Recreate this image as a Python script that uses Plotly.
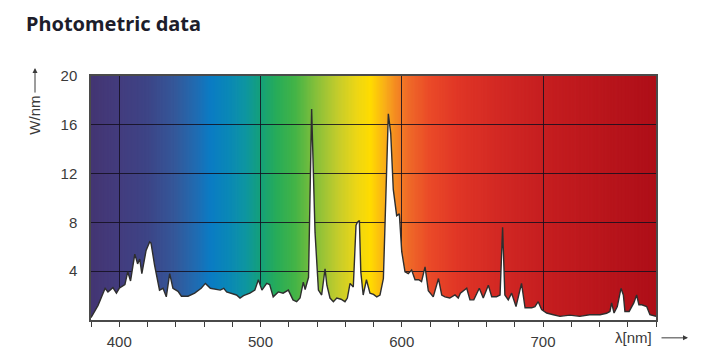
import plotly.graph_objects as go

# ---- data ----
wavelength = [380, 385, 390, 392, 395.5, 398, 400, 404, 406, 408, 411, 413, 414.5, 416, 419,
              421.5, 422.5, 425, 428.5, 431, 433.3, 435.7, 438, 441.6, 444, 448.7, 453.4, 458,
              461, 464.5, 471.5, 474, 476, 483, 485.5, 488, 492.5, 496, 498.5, 501, 504.4, 506.5,
              509, 512.6, 516, 519.7, 523, 525.6, 528, 530.3, 531.6, 534, 536.2, 538.6, 541,
              543.3, 545.7, 547, 549.2, 551.6, 554, 557, 559.8, 561.5, 563.4, 565.7, 567.6, 568.5,
              570, 571, 572.7, 575, 577.5, 580, 582.3, 584.6, 587, 588.8, 590.5, 592.2, 594,
              596.4, 598.3, 600, 602.3, 604.6, 607, 609.4, 612, 614, 616.5, 618.8, 622.3, 626,
              628.3, 630.6, 634, 637.7, 640, 641.5, 646, 648.3, 651, 654.9, 657.7, 661.3, 663.7,
              667, 669.6, 671.4, 673, 675.4, 677.8, 680.9, 682.5, 684.8, 687.3, 692, 694.3, 696.6,
              699, 702.6, 707.3, 712, 719, 726, 733, 740.4, 745, 747.4, 748.6, 750.3, 752.6, 754,
              755.2, 756.9, 758, 761, 764.3, 766.3, 767.9, 770, 773.4, 775.7, 780]
power = [0.2, 1.2, 2.6, 2.3, 2.65, 2.2, 2.6, 2.9, 3.95, 3.2, 5.4, 4.6, 5.0, 3.8, 5.7,
         6.4, 6.3, 4.5, 2.45, 2.6, 1.9, 3.8, 2.6, 2.35, 1.95, 1.95, 2.2, 2.6,
         3.0, 2.6, 2.45, 2.6, 2.3, 2.05, 1.8, 2.0, 2.2, 2.45, 3.3, 2.45, 3.0, 2.9,
         1.9, 2.3, 2.2, 2.45, 1.65, 1.5, 1.8, 3.1, 2.5, 3.5, 17.3, 7.2, 2.45,
         2.05, 4.2, 2.85, 1.8, 1.5, 1.8, 1.7, 1.5, 1.8, 3.0, 2.7, 7.75, 8.0,
         8.15, 3.95, 2.05, 3.3, 2.2, 2.1, 1.9, 2.05, 3.4, 9.9, 16.9, 15.3, 10.7,
         8.55, 8.7, 5.6, 3.95, 3.8, 4.1, 3.3, 3.3, 3.15, 4.35, 2.4, 1.9, 3.4,
         2.05, 1.9, 1.8, 2.05, 1.8, 2.2, 2.6, 1.65, 1.65, 2.6, 1.8, 2.85, 1.9,
         1.9, 2.05, 7.6, 2.05, 1.65, 2.2, 1.1, 1.9, 3.0, 1.0, 1.0, 1.1, 1.5,
         0.85, 0.57, 0.43, 0.3, 0.4, 0.3, 0.43, 0.43, 0.55, 0.7, 1.4, 0.57, 1.1, 2.05,
         2.6, 2.05, 0.7, 0.7, 1.4, 2.05, 1.25, 1.25, 1.1, 0.43, 0.3]

x_ticks = [380, 400, 420, 440, 460, 480, 500, 520, 540, 560, 580, 600, 620, 640, 660, 680,
           700, 720, 740, 760, 780]
x_labels = {400: "400", 500: "500", 600: "600", 700: "700"}
x_grid = [400, 500, 600, 700]
y_ticks = [4, 8, 12, 16, 20]

# spectrum background colour stops (wavelength, colour)
stop_nm = [380, 400, 420, 440, 455, 465, 478, 490, 500, 512, 525, 540, 555, 568, 578,
           588, 596, 605, 620, 640, 665, 700, 740, 780]
stop_col = ["#433572", "#433c7e", "#3d4486", "#34589a", "#1f6cb2", "#0a7cc4", "#0a88b6",
            "#0e96a0", "#14a07a", "#28ac58", "#44b446", "#88c03a", "#c4cc2c", "#ecd616",
            "#ffdc00", "#f9b018", "#f48a22", "#ef6a28", "#ea4a28", "#e03626", "#d42a24",
            "#c61e20", "#ba161c", "#ae0e18"]


def hex2rgb(h):
    h = h.lstrip("#")
    return [int(h[i:i + 2], 16) for i in (0, 2, 4)]


def colour_at(nm):
    for i in range(len(stop_nm) - 1):
        if stop_nm[i] <= nm <= stop_nm[i + 1]:
            t = (nm - stop_nm[i]) / (stop_nm[i + 1] - stop_nm[i])
            a, b = hex2rgb(stop_col[i]), hex2rgb(stop_col[i + 1])
            c = [round(a[k] + (b[k] - a[k]) * t) for k in range(3)]
            return "rgb(%d,%d,%d)" % tuple(c)
    return stop_col[-1]


shapes = []
nm = 380
while nm < 780:
    shapes.append(dict(type="rect", xref="x", yref="y", layer="below",
                       x0=nm - 0.3, x1=nm + 1.3, y0=0, y1=20,
                       fillcolor=colour_at(nm + 0.5), line=dict(width=0)))
    nm += 1

GRID = "rgba(20,15,30,0.85)"

fig = go.Figure()
fig.add_trace(go.Scatter(
    x=wavelength, y=power, mode="lines", fill="tozeroy",
    fillcolor="white", line=dict(color="#2e2e2e", width=1.4),
    hoverinfo="skip", showlegend=False))
# invisible helper trace for the overlaid axis that carries the 100 nm grid lines
fig.add_trace(go.Scatter(x=[380], y=[0], xaxis="x2", mode="markers",
                         marker=dict(opacity=0), hoverinfo="skip", showlegend=False))

tick_font = dict(family="Liberation Sans, Arial, sans-serif", size=15, color="#3a3a3a")

fig.update_layout(
    width=719, height=362,
    margin=dict(l=91, r=63, t=76, b=40),
    paper_bgcolor="white", plot_bgcolor="white",
    shapes=shapes,
    title=dict(text="<b>Photometric data</b>", x=26 / 719, xanchor="left",
               y=1 - 24 / 362, yanchor="middle",
               font=dict(family="Noto Sans, Open Sans, sans-serif", size=20, color="#1d1d2b")),
    xaxis=dict(range=[380, 780], tickvals=x_ticks,
               ticktext=[x_labels.get(v, "") for v in x_ticks],
               ticks="outside", ticklen=5, tickwidth=1.3, tickcolor="#3a3a3a",
               showgrid=False,
               showline=True, linecolor="#4a4a4a", linewidth=1.5, mirror=True,
               tickfont=tick_font, zeroline=False, ticklabelstandoff=2),
    xaxis2=dict(overlaying="x", matches="x", range=[380, 780],
                tickvals=x_grid, showticklabels=False, ticks="",
                showgrid=True, gridcolor=GRID, gridwidth=1.3,
                showline=False, zeroline=False),
    yaxis=dict(range=[0, 20], tickvals=y_ticks, ticks="",
               showgrid=True, gridcolor=GRID, gridwidth=1.3,
               showline=True, linecolor="#4a4a4a", linewidth=1.5, mirror=True,
               tickfont=tick_font, zeroline=False, ticklabelstandoff=9),
)

ann_font = dict(family="Liberation Sans, Arial, sans-serif", size=15, color="#3a3a3a")
fig.add_annotation(text="W/nm", xref="paper", yref="paper", x=(35 - 91) / 565,
                   y=(322 - 116) / 246, textangle=-90, showarrow=False, font=ann_font,
                   xanchor="center", yanchor="middle")
fig.add_annotation(text="", xref="paper", yref="paper", x=(35 - 91) / 565, y=(322 - 68) / 246,
                   ax=0, ay=26, showarrow=True, arrowhead=2, arrowsize=1, arrowwidth=1,
                   arrowcolor="#3a3a3a")
fig.add_annotation(text="λ[nm]", xref="paper", yref="paper", x=(633 - 91) / 565,
                   y=(322 - 340) / 246, showarrow=False, font=ann_font,
                   xanchor="center", yanchor="middle")
fig.add_annotation(text="", xref="paper", yref="paper", x=(688 - 91) / 565, y=(322 - 340) / 246,
                   ax=-28, ay=0, showarrow=True, arrowhead=2, arrowsize=1, arrowwidth=1,
                   arrowcolor="#3a3a3a")

fig.write_html("out.html", config={"displayModeBar": False},
               post_script="document.body.style.margin='0';document.body.style.padding='0';")
